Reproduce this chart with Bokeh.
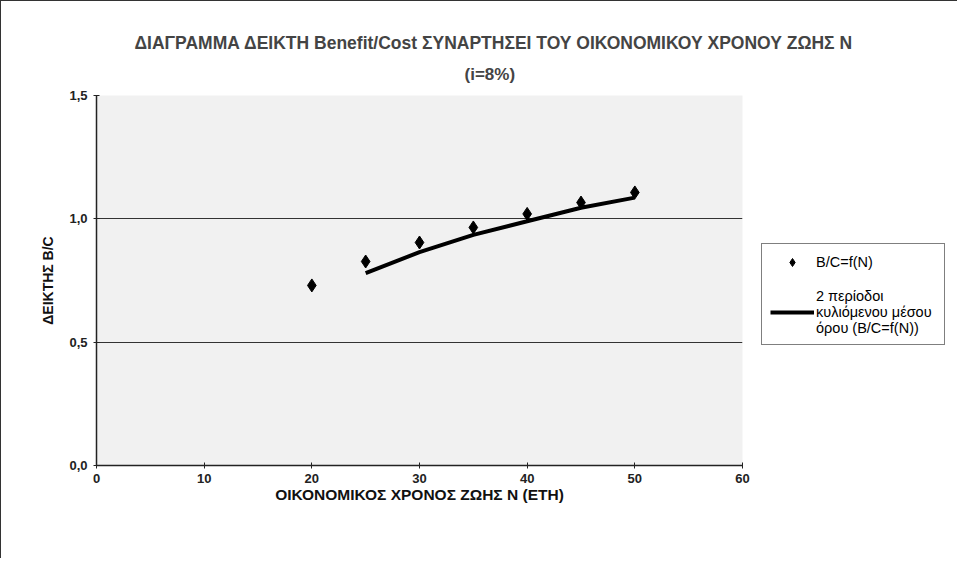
from bokeh.plotting import figure
from bokeh.models import Title, Legend, LegendItem, FixedTicker, Range1d
from bokeh.embed import file_html
from bokeh.resources import INLINE

# Data
years = [20, 25, 30, 35, 40, 45, 50]
bc_ratio = [0.73, 0.827, 0.904, 0.965, 1.02, 1.066, 1.107]
ma_years = [25, 30, 35, 40, 45, 50]
ma_values = [0.78, 0.865, 0.935, 0.99, 1.045, 1.086]

x_ticks = [0, 10, 20, 30, 40, 50, 60]
y_ticks = [0.0, 0.5, 1.0, 1.5]
y_tick_labels = {0.0: "0,0", 0.5: "0,5", 1.0: "1,0", 1.5: "1,5"}

title_main = "ΔΙΑΓΡΑΜΜΑ ΔΕΙΚΤΗ Benefit/Cost ΣΥΝΑΡΤΗΣΕΙ ΤΟΥ ΟΙΚΟΝΟΜΙΚΟΥ ΧΡΟΝΟΥ ΖΩΗΣ Ν"
title_sub = "(i=8%)"
x_label = "ΟΙΚΟΝΟΜΙΚΟΣ ΧΡΟΝΟΣ ΖΩΗΣ Ν (ΕΤΗ)"
y_label = "ΔΕΙΚΤΗΣ B/C"
legend_points = "B/C=f(N)"
legend_line = "2 περίοδοι\nκυλιόμενου μέσου\nόρου (B/C=f(N))"

FONT = "Liberation Sans"

p = figure(frame_width=646, frame_height=370, output_backend="svg", toolbar_location=None,
           x_range=Range1d(0, 60), y_range=Range1d(0, 1.5),
           min_border_left=95, min_border_right=6, min_border_top=94,
           min_border_bottom=93)

t2 = Title(text=title_sub, align="left", text_font=FONT, text_font_size="17px",
           text_font_style="bold", offset=368, standoff=20, vertical_align="top")
t1 = Title(text=title_main, align="left", text_font=FONT, text_font_size="17.5px",
           text_font_style="bold", offset=38, standoff=4)
p.add_layout(t2, "above")
p.add_layout(t1, "above")

p.background_fill_color = "#f1f1f1"
p.border_fill_color = "white"
p.outline_line_color = None
p.styles = {"border-left": "1px solid #333", "border-top": "1px solid #333"}

p.xgrid.grid_line_color = None
p.ygrid.grid_line_color = "#333333"
p.ygrid.grid_line_width = 1
p.ygrid.ticker = FixedTicker(ticks=y_ticks)

p.xaxis.ticker = FixedTicker(ticks=x_ticks)
p.yaxis.ticker = FixedTicker(ticks=y_ticks)
p.yaxis.major_label_overrides = y_tick_labels
for ax in (p.xaxis, p.yaxis):
    ax.axis_line_color = "#222222"
    ax.axis_line_width = 1.5
    ax.major_tick_line_color = "#222222"
    ax.major_tick_in = 3
    ax.major_tick_out = 3
    ax.minor_tick_line_color = None
    ax.major_label_text_font = FONT
    ax.major_label_text_font_size = "13px"
    ax.major_label_text_font_style = "bold"
    ax.major_label_text_color = "#222222"
    ax.axis_label_text_font = FONT
    ax.axis_label_text_font_style = "bold"
    ax.axis_label_text_color = "#111111"
p.xaxis.axis_label = x_label
p.yaxis.axis_label = y_label
p.xaxis.axis_label_text_font_size = "15.5px"
p.yaxis.axis_label_text_font_size = "14px"
p.xaxis.major_label_standoff = 5
p.xaxis.axis_label_standoff = 0
p.yaxis.major_label_standoff = 6
p.yaxis.axis_label_standoff = 10

pts = p.scatter(years, bc_ratio, marker="diamond", size=13, color="black")
ln = p.line(ma_years, ma_values, line_width=4, color="black")

legend = Legend(items=[LegendItem(label=legend_points, renderers=[pts]),
                       LegendItem(label=legend_line, renderers=[ln])],
                location=(19, 120), label_text_font=FONT, label_text_font_size="14.5px",
                label_text_color="black", label_width=120,
                border_line_color="black", border_line_width=1,
                background_fill_color="white", spacing=16, padding=8,
                glyph_width=44, label_standoff=2)
p.add_layout(legend, "right")

open("out.html", "w").write(file_html(p, INLINE))
